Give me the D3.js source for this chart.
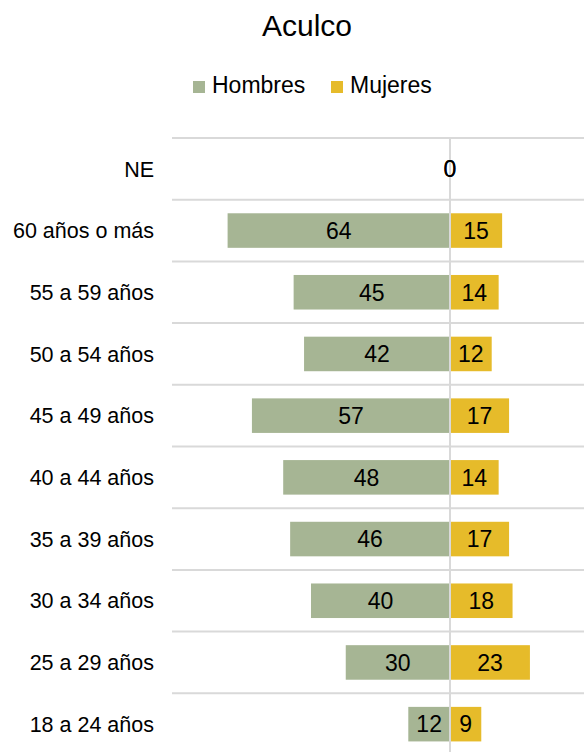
<!DOCTYPE html>
<html>
<head>
<meta charset="utf-8">
<script src="https://cdn.jsdelivr.net/npm/d3@7"></script>
<style>
  body { margin: 0; background: #fff; }
  svg { display: block; font-family: "Liberation Sans", Arial, sans-serif; }
</style>
</head>
<body>
<div id="chart"></div>
<script>
// Data
var categories = ["NE", "60 años o más", "55 a 59 años", "50 a 54 años", "45 a 49 años",
                  "40 a 44 años", "35 a 39 años", "30 a 34 años", "25 a 29 años", "18 a 24 años"];
var hombres = [0, 64, 45, 42, 57, 48, 46, 40, 30, 12];
var mujeres = [0, 15, 14, 12, 17, 14, 17, 18, 23, 9];
var series = ["Hombres", "Mujeres"];

var width = 584,
    height = 752;

var colors = { Hombres: "#a6b594", Mujeres: "#e6bb2a" };

var svg = d3.select("#chart")
  .append("svg")
  .attr("width", width)
  .attr("height", height);

// scales: axis is symmetric, right half cropped by the window
var x = d3.scaleLinear().domain([-80, 80]).range([172, 728]);
var y = d3.scaleBand().domain(categories).range([138, 755])
  .paddingInner(0.44).paddingOuter(0.22);

var step = y.step();
var top0 = 138;

// horizontal grid lines between categories
svg.selectAll(".grid")
  .data(d3.range(categories.length + 1))
  .enter().append("line")
  .attr("class", "grid")
  .attr("x1", x(-80))
  .attr("x2", x(80))
  .attr("y1", function(i) { return top0 + i * step; })
  .attr("y2", function(i) { return top0 + i * step; })
  .attr("stroke", "#d9d9d9")
  .attr("stroke-width", 2);

var rows = categories.map(function(c, i) {
  return { cat: c, h: hombres[i], m: mujeres[i] };
});

// Hombres bars go to the left
svg.selectAll(".bar-h")
  .data(rows)
  .enter().append("rect")
  .attr("class", "bar-h")
  .attr("x", function(d) { return x(-d.h); })
  .attr("y", function(d) { return y(d.cat); })
  .attr("width", function(d) { return x(0) - x(-d.h); })
  .attr("height", y.bandwidth())
  .attr("fill", colors.Hombres);

// Mujeres bars go to the right
svg.selectAll(".bar-m")
  .data(rows)
  .enter().append("rect")
  .attr("class", "bar-m")
  .attr("x", x(0))
  .attr("y", function(d) { return y(d.cat); })
  .attr("width", function(d) { return x(d.m) - x(0); })
  .attr("height", y.bandwidth())
  .attr("fill", colors.Mujeres);

// zero line on top
svg.append("line")
  .attr("x1", x(0)).attr("x2", x(0))
  .attr("y1", top0).attr("y2", height)
  .attr("stroke", "#d9d9d9")
  .attr("stroke-width", 2);

// value labels
svg.selectAll(".lab-h")
  .data(rows)
  .enter().append("text")
  .attr("class", "lab-h")
  .attr("x", function(d) { return (x(-d.h) + x(0)) / 2; })
  .attr("y", function(d) { return y(d.cat) + y.bandwidth() / 2; })
  .attr("dy", "0.36em")
  .attr("text-anchor", "middle")
  .attr("font-size", 23)
  .attr("fill", "#000")
  .text(function(d) { return d.h; });

svg.selectAll(".lab-m")
  .data(rows)
  .enter().append("text")
  .attr("class", "lab-m")
  .attr("x", function(d) { return (x(d.m) + x(0)) / 2; })
  .attr("y", function(d) { return y(d.cat) + y.bandwidth() / 2; })
  .attr("dy", "0.36em")
  .attr("text-anchor", "middle")
  .attr("font-size", 23)
  .attr("fill", "#000")
  .text(function(d) { return d.m; });

// category labels
svg.selectAll(".cat")
  .data(categories)
  .enter().append("text")
  .attr("class", "cat")
  .attr("x", 154)
  .attr("y", function(d) { return y(d) + y.bandwidth() / 2; })
  .attr("dy", "0.36em")
  .attr("text-anchor", "end")
  .attr("font-size", 21.5)
  .attr("fill", "#000")
  .text(function(d) { return d; });

// title
svg.append("text")
  .attr("x", 307)
  .attr("y", 36)
  .attr("text-anchor", "middle")
  .attr("font-size", 30)
  .attr("fill", "#000")
  .text("Aculco");

// legend
var legendX = [193, 331];
var legend = svg.selectAll(".legend")
  .data(series)
  .enter().append("g")
  .attr("class", "legend")
  .attr("transform", function(d, i) { return "translate(" + legendX[i] + ",81)"; });

legend.append("rect")
  .attr("width", 12)
  .attr("height", 12)
  .attr("fill", function(d) { return colors[d]; });

legend.append("text")
  .attr("x", 19)
  .attr("y", 12)
  .attr("font-size", 23)
  .attr("fill", "#000")
  .text(function(d) { return d; });
</script>
</body>
</html>
